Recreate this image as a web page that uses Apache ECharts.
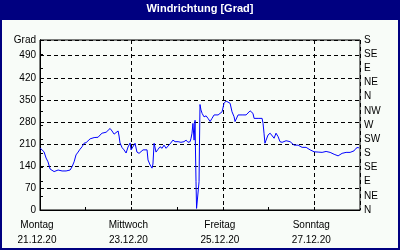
<!DOCTYPE html>
<html>
<head>
<meta charset="utf-8">
<script src="https://cdn.jsdelivr.net/npm/echarts@6/dist/echarts.min.js"></script>
<style>
html,body{margin:0;padding:0;background:#f8fcf8;}
#chart{width:400px;height:250px;}
</style>
</head>
<body>
<div id="chart"></div>
<script>
// Title and axes
const chartTitle = 'Windrichtung [Grad]';
const yAxisName = 'Grad';
const dayNames = ['Montag', 'Mittwoch', 'Freitag', 'Sonntag'];
const dayDates = ['21.12.20', '23.12.20', '25.12.20', '27.12.20'];
const compassLabels = ['N', 'NE', 'E', 'SE', 'S', 'SW', 'W', 'NW', 'N', 'NE', 'E', 'SE', 'S'];

// Time in hours since Mon 21.12.20 00:00
const hours = [0,2.1,3.2,4.2,5.3,6.3,7.4,8.4,9.5,10.5,11.6,12.6,13.7,14.7,15.8,16.8,17.9,18.9,20.0,21.0,
22.1,23.1,24.2,25.2,26.3,27.3,28.4,29.4,30.5,31.5,32.6,33.6,34.7,35.7,36.8,37.8,38.9,39.9,41.0,41.5,
42.0,43.1,44.1,45.2,45.7,46.2,47.3,47.8,48.8,49.9,50.9,52.0,53.0,54.1,55.1,56.2,56.7,57.8,58.8,59.3,
59.9,60.4,60.9,62.0,63.0,64.1,65.1,66.2,67.2,68.3,69.3,69.8,70.9,72.5,74.0,75.6,76.7,77.7,78.8,79.3,
79.8,80.3,80.9,81.4,81.6,81.9,82.2,82.7,83.2,83.5,83.7,84.0,84.5,85.1,86.1,87.2,88.2,89.3,90.3,91.4,
92.4,93.5,94.5,95.6,96.6,97.7,98.7,99.8,100.8,101.9,102.4,102.9,104.0,105.0,106.1,107.1,108.2,109.2,110.3,111.3,
111.8,112.4,114.5,116.6,117.1,117.6,118.1,118.7,119.7,120.8,121.8,122.9,123.9,125.0,126.0,127.1,128.1,129.2,130.2,131.3,
132.3,133.4,134.4,135.5,136.5,137.6,138.6,139.7,140.7,141.8,142.8,143.9,144.9,146.0,147.0,148.1,149.1,150.2,151.2,152.3,
153.3,154.4,155.4,156.5,157.5,158.6,159.6,160.7,161.7,162.8,163.8,164.9,165.9,167.0,167.5];

// Wind direction in degrees
const direction = [197,185,165,153,130,127,122,118,127,129,124,127,124,122,127,137,153,175,184,193,
201,212,214,219,226,226,230,232,231,238,244,246,247,251,259,251,241,241,251,235,
213,198,191,181,187,200,213,191,191,212,184,180,182,191,196,191,159,143,133,146,
212,206,184,193,201,196,206,196,203,210,214,222,217,217,215,217,222,215,217,228,
244,275,222,285,200,90,5,2,3,90,200,335,318,307,296,299,291,281,291,302,
296,302,302,312,339,346,350,339,312,296,281,286,302,307,302,307,302,307,315,318,
307,291,291,291,275,244,212,222,238,244,238,228,244,233,217,215,217,220,215,217,
212,206,212,206,201,199,199,199,196,191,187,185,182,184,180,183,186,186,186,183,
180,177,175,172,175,180,183,183,183,183,183,188,196,199,196];

const seriesData = hours.map((h, i) => [h, direction[i]]);

const font = 'Liberation Sans, Arial, sans-serif';
const chart = echarts.init(document.getElementById('chart'), null, {renderer: 'canvas'});
chart.setOption({
  backgroundColor: '#f8fcf8',
  animation: false,
  graphic: [
    {type: 'rect', left: 0, top: 0, shape: {x: 0, y: 0, width: 400, height: 20}, style: {fill: '#000080'}, z: -1},
    {type: 'rect', shape: {x: 1, y: 1, width: 398, height: 248}, style: {fill: 'none', stroke: '#000080', lineWidth: 2}, z: -1}
  ],
  title: {
    text: chartTitle, left: 'center', top: 3, padding: 0,
    textStyle: {color: '#ffffff', fontSize: 11, fontWeight: 'bold', fontFamily: font}
  },
  grid: {left: 40, right: 40, top: 40, bottom: 40, show: true, borderColor: '#000', borderWidth: 1, backgroundColor: 'transparent'},
  xAxis: [
    {
      type: 'value', min: 0, max: 168, interval: 24, position: 'bottom',
      axisLine: {show: true, lineStyle: {color: '#000', width: 1}},
      axisTick: {show: true, inside: true, length: 3, lineStyle: {color: '#000'}},
      axisLabel: {
        color: '#000', fontSize: 10, fontFamily: font, margin: 8, lineHeight: 15,
        showMaxLabel: false, padding: [0, 6, 0, 0],
        formatter: function (v) {
          const k = Math.round(v / 48);
          if (Math.abs(v - k * 48) > 0.01 || k > 3) return '';
          return dayNames[k] + '\n' + dayDates[k];
        }
      },
      splitLine: {show: false}
    },
    {
      type: 'value', min: 0, max: 168, interval: 48, position: 'bottom',
      axisLine: {show: false}, axisTick: {show: false}, axisLabel: {show: false},
      splitLine: {show: true, lineStyle: {color: '#000', type: [4, 3], width: 1}}
    }
  ],
  yAxis: [
    {
      type: 'value', min: 0, max: 540, interval: 70, position: 'left',
      name: yAxisName, nameLocation: 'end', nameGap: -5,
      nameTextStyle: {color: '#000', fontSize: 10, fontFamily: font, align: 'right', padding: [0, 4, 0, 0]},
      axisLine: {show: true, lineStyle: {color: '#000'}},
      axisTick: {show: false},
      axisLabel: {color: '#000', fontSize: 10, fontFamily: font, margin: 4, showMaxLabel: false,
        formatter: function (v) { return v > 500 ? '' : String(v); }},
      splitLine: {show: true, lineStyle: {color: '#000', type: [4, 3], width: 1}}
    },
    {
      type: 'value', min: 0, max: 540, interval: 45, position: 'right',
      axisLine: {show: true, lineStyle: {color: '#000'}},
      axisTick: {show: true, length: 3, lineStyle: {color: '#000'}},
      axisLabel: {color: '#000', fontSize: 10, fontFamily: font, margin: 4,
        formatter: function (v) { return compassLabels[Math.round(v / 45)] || ''; }},
      splitLine: {show: false}
    }
  ],
  series: [{
    type: 'line', xAxisIndex: 0, yAxisIndex: 0, data: seriesData,
    showSymbol: false, symbol: 'none',
    lineStyle: {color: '#0000ff', width: 1}
  }]
});
</script>
</body>
</html>
